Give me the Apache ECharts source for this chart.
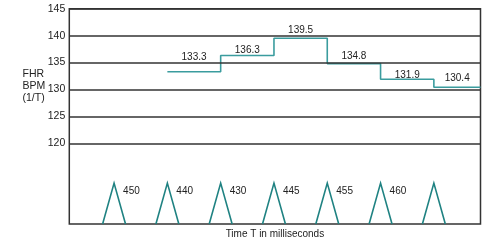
<!DOCTYPE html>
<html><head><meta charset="utf-8">
<script src="https://cdn.jsdelivr.net/npm/echarts@6/dist/echarts.min.js"></script>
<style>html,body{margin:0;padding:0;background:#fff}#c{width:500px;height:244px}</style>
</head><body><div id="c"></div>
<script>
// Data
const beats = [0, 1, 2, 3, 4, 5, 6];               // beat (R-peak) index
const intervalsMs = [450, 440, 430, 445, 455, 460]; // interval after each beat (ms)
const bpm = [133.3, 136.3, 139.5, 134.8, 131.9, 130.4]; // FHR = 60000 / T
const yTickLabels = [120, 125, 130, 135, 140, 145];

// Axis ranges / schematic styling
const xMin = -0.84, xMax = 6.875;
const yMin = 105, yMax = 145;
const peakValue = 112.6;
const halfBase = 0.215;
const labelLift = [14.5, 5, 8, 7, 4, 9];
const FONT = "'Liberation Sans', Arial, Helvetica, sans-serif";

const stepData = bpm.map((v, i) => [beats[i + 1], v]);
stepData.push([xMax, bpm[bpm.length - 1]]);

const chart = echarts.init(document.getElementById('c'), null, {renderer: 'canvas'});
chart.setOption({
  animation: false,
  backgroundColor: '#fff',
  textStyle: {fontFamily: FONT},
  grid: {left: 69.3, right: 19.5, top: 8.7, bottom: 18, show: true, borderColor: '#333', borderWidth: 1.5, backgroundColor: 'transparent'},
  xAxis: {
    type: 'value', min: xMin, max: xMax,
    axisLine: {show: false}, axisTick: {show: false}, axisLabel: {show: false}, splitLine: {show: false},
    name: 'Time T in milliseconds', nameLocation: 'middle', nameGap: 5,
    nameTextStyle: {fontSize: 10, color: '#222', fontFamily: FONT}
  },
  yAxis: {
    type: 'value', min: yMin, max: yMax, interval: 5,
    axisLine: {show: false}, axisTick: {show: false}, splitLine: {show: false},
    axisLabel: {
      fontSize: 10.5, color: '#222', margin: 4, fontFamily: FONT,
      formatter: v => yTickLabels.indexOf(v) >= 0 ? String(v) : ''
    }
  },
  graphic: [{
    type: 'text', left: 22.5, top: 68.5,
    style: {text: 'FHR\nBPM\n(1/T)', font: '10.5px ' + FONT, fill: '#222', lineHeight: 12}
  }],
  series: [
    {
      type: 'line', data: [], silent: true, z: 1,
      markLine: {
        silent: true, symbol: ['none', 'none'], label: {show: false},
        lineStyle: {color: '#333', width: 1.5, type: 'solid'},
        data: yTickLabels.map(v => ({yAxis: v}))
      }
    },
    {
      type: 'line', data: stepData, step: 'end', showSymbol: false, z: 3,
      lineStyle: {color: '#3a9c9e', width: 1.6}
    },
    {
      type: 'custom', z: 4, data: bpm.map((v, i) => [i]),
      renderItem: (params, api) => {
        const i = api.value(0);
        const x0 = beats[i + 1];
        const x1 = i + 2 < beats.length ? beats[i + 2] : xMax;
        const p = api.coord([(x0 + x1) / 2, bpm[i]]);
        return {type: 'text', style: {text: bpm[i].toFixed(1), x: p[0], y: p[1] - labelLift[i],
          font: '10px ' + FONT, fill: '#222', align: 'center', verticalAlign: 'middle'}};
      }
    },
    {
      type: 'custom', z: 4, data: beats.map(b => [b]),
      renderItem: (params, api) => {
        const b = api.value(0);
        const a = api.coord([b - halfBase, yMin]);
        const t = api.coord([b, peakValue]);
        const c = api.coord([b + halfBase, yMin]);
        const children = [{type: 'polyline', shape: {points: [a, t, c]},
          style: {stroke: '#1f8282', lineWidth: 1.6, fill: null}}];
        const idx = params.dataIndex;
        if (idx < intervalsMs.length) {
          children.push({type: 'text', style: {text: String(intervalsMs[idx]), x: t[0] + 9, y: t[1] + 8,
            font: '10px ' + FONT, fill: '#222', align: 'left', verticalAlign: 'middle'}});
        }
        return {type: 'group', children};
      }
    }
  ]
});
</script></body></html>
